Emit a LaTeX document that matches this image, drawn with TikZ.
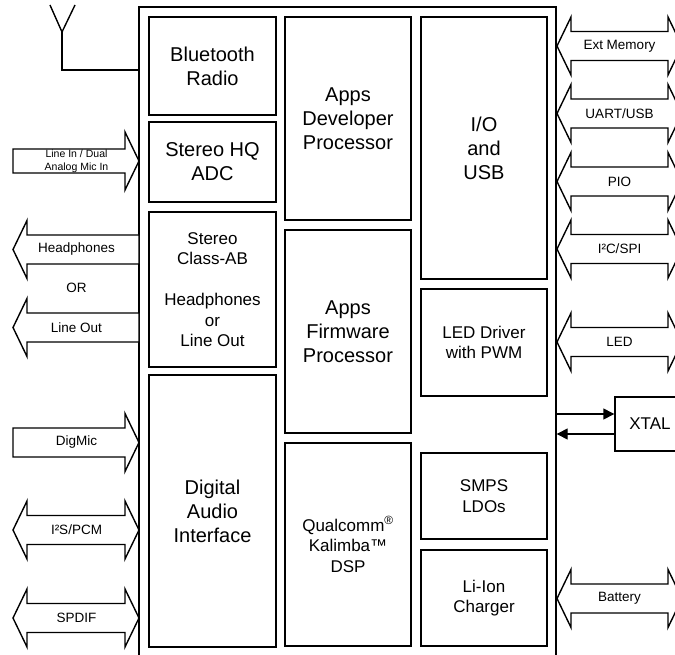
\documentclass[tikz,border=0pt]{standalone}
\usepackage{fontspec}
\setmainfont{Liberation Sans}
\usetikzlibrary{arrows.meta}

% one unit = one pixel of the reference, y runs downwards
\tikzset{
  block/.style={rectangle, draw, line width=1.4pt, align=center, inner sep=0pt, font=\fontsize{20}{24}\selectfont},
  smallblock/.style={block, font=\fontsize{17}{20.5}\selectfont},
  fat/.style={draw, line width=1.4pt, fill=white, line join=miter},
  lbl/.style={font=\fontsize{13.5}{16}\selectfont},
  wire/.style={line width=1.4pt},
  clk/.style={wire, -{Triangle[length=11pt,width=11pt]}},
}

% fat arrows: #1 = middle y, #2 = left x, #3 = right x
\newcommand{\twoway}[3]{%
  \draw[fat] (#2,#1) -- ++(14,-29) -- ++(0,14.5) -- ({#3-14},{#1-14.5}) -- ++(0,-14.5)
    -- (#3,#1) -- ({#3-14},{#1+29}) -- ++(0,-14.5) -- ({#2+14},{#1+14.5}) -- ++(0,14.5) -- cycle;}
\newcommand{\leftway}[3]{%
  \draw[fat] (#2,#1) -- ++(14,-29) -- ++(0,14.5) -- (#3,{#1-14.5}) -- (#3,{#1+14.5})
    -- ({#2+14},{#1+14.5}) -- ++(0,14.5) -- cycle;}
\newcommand{\rightway}[4][14.5]{%
  \draw[fat] (#3,{#2-#1}) -- ({#4-14},{#2-#1}) -- ({#4-14},{#2-29}) -- (#4,#2)
    -- ({#4-14},{#2+29}) -- ({#4-14},{#2+#1}) -- (#3,{#2+#1}) -- cycle;}

\begin{document}
\begin{tikzpicture}[x=1pt, y=-1pt]
\useasboundingbox (0,0) rectangle (675,655);
\clip (0,0) rectangle (675,655);

% the chip outline
\node[draw, line width=1.4pt, minimum width=417pt, minimum height=670pt, inner sep=0pt] (chip) at (347.5,342) {};

% first column
\node[block, minimum width=127pt, minimum height=98pt] (radio) at (212.5,66) {Bluetooth\\Radio};
\node[block, minimum width=127pt, minimum height=80pt] (adc) at (212.5,162) {Stereo HQ\\ADC};
\node[smallblock, minimum width=127pt, minimum height=155pt] (amp) at (212.5,289.5) {Stereo\\Class-AB\\[20.5pt]Headphones\\or\\Line Out};
\node[block, minimum width=127pt, minimum height=272pt] (dai) at (212.5,511) {Digital\\Audio\\Interface};

% second column
\node[block, minimum width=126pt, minimum height=203pt] (devproc) at (348,118.5) {Apps\\Developer\\Processor};
\node[block, minimum width=126pt, minimum height=203pt] (fwproc) at (348,331.5) {Apps\\Firmware\\Processor};
\node[smallblock, minimum width=126pt, minimum height=203pt] (dsp) at (348,544.5) {Qualcomm\textsuperscript{\textregistered}\\Kalimba™\\DSP};

% third column
\node[block, minimum width=126pt, minimum height=262pt] (io) at (484,148) {I/O\\and\\USB};
\node[smallblock, minimum width=126pt, minimum height=107pt] (led) at (484,342.5) {LED Driver\\with PWM};
\node[smallblock, minimum width=126pt, minimum height=86pt] (smps) at (484,496) {SMPS\\LDOs};
\node[smallblock, minimum width=126pt, minimum height=96pt] (charger) at (484,598) {Li-Ion\\Charger};

% antenna
\coordinate (antjoin) at (62,32);
\coordinate (antbend) at (62,70);
\draw[wire] (50,5) -- (antjoin) -- (75,5);
\draw[wire] (antjoin) -- (antbend) -- (chip.west |- antbend);

% left side
\rightway[12]{161}{13}{139}
\node[font=\fontsize{10.5}{13}\selectfont, align=center] (linein) at (76.5,161) {Line In / Dual\\Analog Mic In};
\leftway{249.5}{13}{139}
\node[lbl] (hp) at (76.5,249.5) {Headphones};
\node[lbl] (orword) at (76.5,288) {OR};
\leftway{327.5}{13}{139}
\node[lbl] (lineout) at (76.5,327.5) {Line Out};
\rightway{442.5}{13}{139}
\node[lbl] (digmic) at (76.5,442.5) {DigMic};
\twoway{530}{13}{139}
\node[lbl] (i2s) at (76.5,530) {I²S/PCM};
\twoway{618}{13}{139}
\node[lbl] (spdif) at (76.5,618) {SPDIF};

% right side
\twoway{46}{557}{682}
\node[lbl] (extmem) at (619.5,46) {Ext Memory};
\twoway{113.5}{557}{682}
\node[lbl] (uart) at (619.5,113.5) {UART/USB};
\twoway{181.5}{557}{682}
\node[lbl] (pio) at (619.5,181.5) {PIO};
\twoway{249}{557}{682}
\node[lbl] (i2c) at (619.5,249) {I²C/SPI};
\twoway{342}{557}{682}
\node[lbl] (ledpin) at (619.5,342) {LED};
\twoway{598.5}{557}{682}
\node[lbl] (battery) at (619.5,598.5) {Battery};

% crystal
\node[draw, line width=1.4pt, minimum width=70pt, minimum height=54pt, font=\fontsize{17}{20}\selectfont] (xtal) at (650,424) {XTAL};
\coordinate (clkout) at (600,414);
\coordinate (clkin) at (600,434);
\draw[clk] (chip.east |- clkout) -- (xtal.west |- clkout);
\draw[clk] (xtal.west |- clkin) -- (chip.east |- clkin);
\end{tikzpicture}
\end{document}
